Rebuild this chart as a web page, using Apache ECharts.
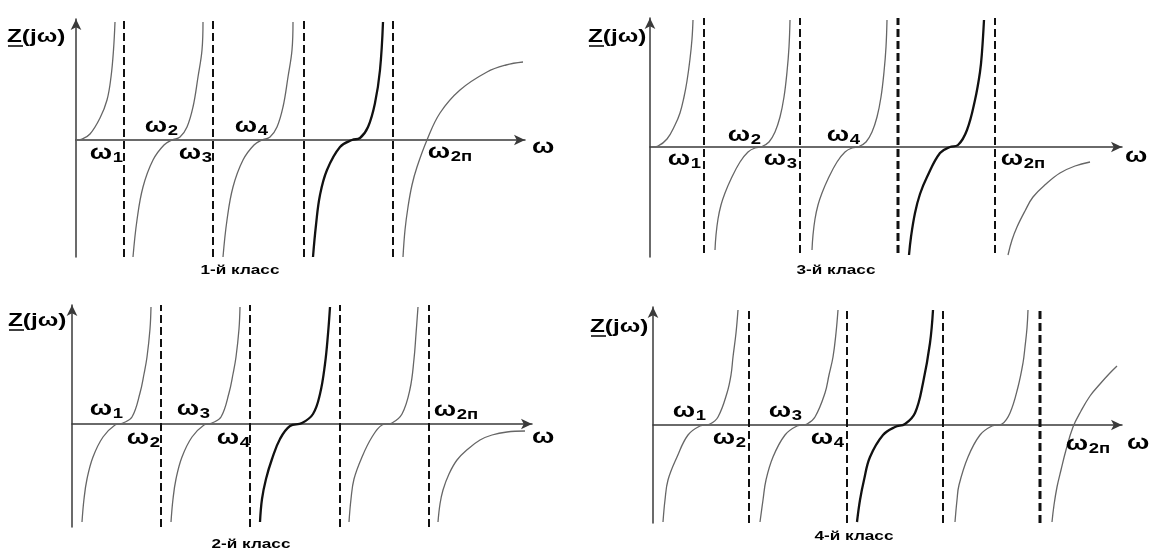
<!DOCTYPE html>
<html>
<head>
<meta charset="utf-8">
<script src="https://cdn.jsdelivr.net/npm/echarts@6/dist/echarts.min.js"></script>
<style>
html,body{margin:0;padding:0;background:#fff;}
#chart{width:1149px;height:548px;}
</style>
</head>
<body>
<div id="chart"></div>
<script>
// ---------- DATA (x = ω offset, y = Z value) ----------
// axis ranges per panel: [xMax, yMin, yMax]
const p1Axis = [449, -117, 121];
const p2Axis = [460, -103, 119];
const p3Axis = [472, -110, 129];
const p4Axis = [469, -98, 118];

// Panel 1: "1-й класс"
const p1Branches = [
  [[0,0],[6,1],[14,6],[24,22],[31,40],[35,63],[37.5,90],[39,118]],
  [[57,-117],[61,-80],[67,-47],[77,-20],[88,-5],[96,0],[104,3],[111,13],[117,33],[122,63],[126,90],[127,118]],
  [[147,-117],[151,-80],[157,-47],[167,-20],[178,-5],[186,0],[194,3],[201,13],[207,33],[212,63],[216,90],[217,118]],
  [[237,-117],[240,-85],[244,-55],[251,-30],[264,-7],[276,0],[284,2],[292,13],[299,37],[304,70],[307,118]],
  [[327,-117],[329,-90],[332,-67],[336,-45],[341,-27],[351,0],[364,27],[384,50],[411,68],[430,75],[447,78]]
];
const p1Bold = 3;
const p1Poles = [48, 137, 228, 317];
const p1PoleSpan = [-117, 120];
const p1Labels = [[36,-13.5,'1'],[91,13.5,'2'],[125,-13.5,'3'],[181,13.5,'4'],[374,-12.5,'2п']];

// Panel 2: "2-й класс"
const p2Branches = [
  [[10,-98],[12,-75],[15,-55],[21,-33],[31,-13],[43,-1],[51,1],[60,7],[68,31],[72,50],[75,67],[78,95],[79,117]],
  [[99,-98],[101,-75],[104,-55],[110,-33],[120,-13],[132,-1],[140,1],[149,7],[157,31],[161,50],[164,67],[167,95],[168,117]],
  [[188,-98],[190,-75],[194,-55],[200,-35],[208,-15],[218,-2],[230,1],[241,10],[248,30],[253,60],[256,90],[258,117]],
  [[277,-98],[279,-75],[282,-55],[290,-33],[300,-13],[310,-1],[320,1],[330,10],[338,35],[342,65],[344,90],[346,117]],
  [[366,-98],[368,-80],[371,-66],[377,-50],[385,-36],[396,-25],[408,-16],[420,-11],[435,-8],[453,-7]]
];
const p2Bold = 2;
const p2Poles = [89, 178, 268, 357];
const p2PoleSpan = [-103, 119];
const p2Labels = [[40,14.5,'1'],[77,-14.5,'2'],[127,14.5,'3'],[167,-14.5,'4'],[384,13.5,'2п']];

// Panel 3: "3-й класс"
const p3Branches = [
  [[2,0],[8,1],[17,8],[25,22],[30,34],[34,50],[37,66],[40,88],[42,108],[43,127]],
  [[65,-103],[66,-88],[68,-72],[71,-58],[75,-46],[81,-32],[90,-15],[98,-5],[105,-1],[112,0.5],[119,5],[125,15],[130,30],[134,50],[137,75],[139,100],[140,127]],
  [[162,-103],[163,-88],[165,-72],[168,-58],[172,-46],[178,-32],[187,-15],[195,-5],[202,-1],[209,0.5],[216,5],[222,15],[227,30],[231,50],[234,75],[236,100],[237,127]],
  [[259,-108],[261,-90],[265,-66],[270,-47],[277,-30],[290,-6],[300,0],[308,2],[317,17],[325,47],[330,75],[332,95],[334,127]],
  [[358,-108],[362,-93],[367,-80],[375,-64],[383,-50],[396,-37],[410,-26],[425,-19],[440,-15]]
];
const p3Bold = 3;
const p3Poles = [54, 150, 248, 345];
const p3PoleSpan = [-106, 129];
const p3Labels = [[40,-12.5,'1'],[100,11.5,'2'],[136,-12.5,'3'],[199,11.5,'4'],[373,-12.5,'2п']];

// Panel 4: "4-й класс"
const p4Branches = [
  [[10,-97],[12,-75],[15,-55],[24,-32],[35,-10],[47,-1],[57,1],[65,8],[74,32],[78,50],[80,68],[83,92],[85,115]],
  [[107,-97],[110,-75],[113,-55],[120,-32],[132,-10],[144,-1],[154,1],[162,8],[172,32],[176,50],[180,68],[183,92],[185,115]],
  [[204,-97],[207,-75],[211,-55],[217,-32],[230,-10],[242,-2],[252,1],[262,12],[270,42],[277,82],[280,115]],
  [[302,-97],[304,-75],[306,-60],[315,-32],[327,-10],[339,-1],[349,1],[357,12],[365,38],[370,62],[372,78],[374,97],[375,115]],
  [[399,-97],[401,-80],[404,-62],[408,-45],[413,-25],[420,-2],[428,14],[437,29],[447,41],[456,51],[464,59]]
];
const p4Bold = 2;
const p4Poles = [96, 194, 290, 387];
const p4PoleSpan = [-98, 117];
const p4Labels = [[42,13.5,'1'],[82,-13.5,'2'],[138,13.5,'3'],[180,-13.5,'4'],[435,-19.5,'2п']];

const captions = ['1-й класс', '2-й класс', '3-й класс', '4-й класс'];
const yTitle = 'Z(jω)';
const xTitle = 'ω';

// ---------- LAYOUT / STYLE ----------
const FONT = '"Liberation Sans", Arial, sans-serif';
const SX = 1.32;
const grids = [
  {left: 76,  top: 19,  width: 449, height: 238},
  {left: 72,  top: 305, width: 460, height: 222},
  {left: 650, top: 18,  width: 472, height: 239},
  {left: 653, top: 307, width: 469, height: 216}
];
const axesData = [p1Axis, p2Axis, p3Axis, p4Axis];
const branchesData = [p1Branches, p2Branches, p3Branches, p4Branches];
const boldIdx = [p1Bold, p2Bold, p3Bold, p4Bold];
const polesData = [p1Poles, p2Poles, p3Poles, p4Poles];
const poleSpans = [p1PoleSpan, p2PoleSpan, p3PoleSpan, p4PoleSpan];
const labelsData = [p1Labels, p2Labels, p3Labels, p4Labels];
const heavyPole = [-1, -1, 2, 3];

const axisLineStyle = {color: '#3a3a3a', width: 1.5};
const xAxes = [], yAxes = [], series = [];
grids.forEach((g, i) => {
  const a = axesData[i];
  xAxes.push({
    gridIndex: i, type: 'value', min: 0, max: a[0],
    axisLine: {show: true, onZero: true, symbol: ['none', 'arrow'], symbolSize: [8, 11], lineStyle: axisLineStyle},
    axisTick: {show: false}, axisLabel: {show: false}, splitLine: {show: false}
  });
  yAxes.push({
    gridIndex: i, type: 'value', min: a[1], max: a[2],
    axisLine: {show: true, onZero: false, symbol: ['none', 'arrow'], symbolSize: [8, 11], lineStyle: axisLineStyle},
    axisTick: {show: false}, axisLabel: {show: false}, splitLine: {show: false}
  });
  branchesData[i].forEach((b, k) => {
    const bold = k === boldIdx[i];
    series.push({
      type: 'line', xAxisIndex: i, yAxisIndex: i, data: b,
      smooth: 0.4, symbol: 'none', silent: true,
      lineStyle: {color: bold ? '#111' : '#666', width: bold ? 2.3 : 1.3}, z: 3
    });
  });
  const span = poleSpans[i];
  polesData[i].forEach((x, k) => {
    series.push({
      type: 'line', xAxisIndex: i, yAxisIndex: i, data: [[x, span[0]], [x, span[1]]],
      symbol: 'none', silent: true,
      lineStyle: {color: '#111', width: k === heavyPole[i] ? 3 : 2, type: [8, 4]}, z: 2
    });
  });
  const labs = labelsData[i];
  series.push({
    type: 'custom', xAxisIndex: i, yAxisIndex: i, silent: true, z: 5,
    data: labs.map(l => [l[0], l[1]]),
    renderItem: function (params, api) {
      const l = labs[params.dataIndex];
      const p = api.coord([l[0], l[1]]);
      return {
        type: 'group', x: p[0], y: p[1], scaleX: SX,
        children: [
          {type: 'text', x: 0, y: 0, style: {text: 'ω', font: 'bold 20px ' + FONT, fill: '#000',
            align: 'right', verticalAlign: 'middle', textAlign: 'right', textVerticalAlign: 'middle'}},
          {type: 'text', x: 0.5, y: 5, style: {text: l[2], font: 'bold 14px ' + FONT, fill: '#000',
            align: 'left', verticalAlign: 'middle', textAlign: 'left', textVerticalAlign: 'middle'}}
        ]
      };
    }
  });
});

// titles (non-data text)
const ztPos = [[7, 37], [8, 321], [588, 37], [590, 327]];
const wPos = [[532, 147], [532, 437], [1125, 156], [1127, 443]];
const capPos = [[240, 270], [251, 544], [836, 270], [854, 536]];
const graphics = [];
for (let i = 0; i < 4; i++) {
  graphics.push({type: 'text', x: ztPos[i][0], y: ztPos[i][1], scaleX: 1.28,
    style: {text: yTitle, font: 'bold 19px ' + FONT, fill: '#000', align: 'left', verticalAlign: 'middle', textAlign: 'left', textVerticalAlign: 'middle'}});
  graphics.push({type: 'line', shape: {x1: ztPos[i][0] + 1, y1: ztPos[i][1] + 9, x2: ztPos[i][0] + 16, y2: ztPos[i][1] + 9},
    style: {stroke: '#000', lineWidth: 1.5}});
  graphics.push({type: 'text', x: wPos[i][0], y: wPos[i][1], scaleX: SX,
    style: {text: xTitle, font: 'bold 20px ' + FONT, fill: '#000', align: 'left', verticalAlign: 'middle', textAlign: 'left', textVerticalAlign: 'middle'}});
  graphics.push({type: 'text', x: capPos[i][0], y: capPos[i][1], scaleX: SX,
    style: {text: captions[i], font: 'bold 13px ' + FONT, fill: '#000', align: 'center', verticalAlign: 'middle', textAlign: 'center', textVerticalAlign: 'middle'}});
}

const chart = echarts.init(document.getElementById('chart'), null, {renderer: 'canvas'});
chart.setOption({
  backgroundColor: '#fff',
  animation: false,
  tooltip: {show: false},
  grid: grids,
  xAxis: xAxes,
  yAxis: yAxes,
  series: series,
  graphic: graphics
});
</script>
</body>
</html>
